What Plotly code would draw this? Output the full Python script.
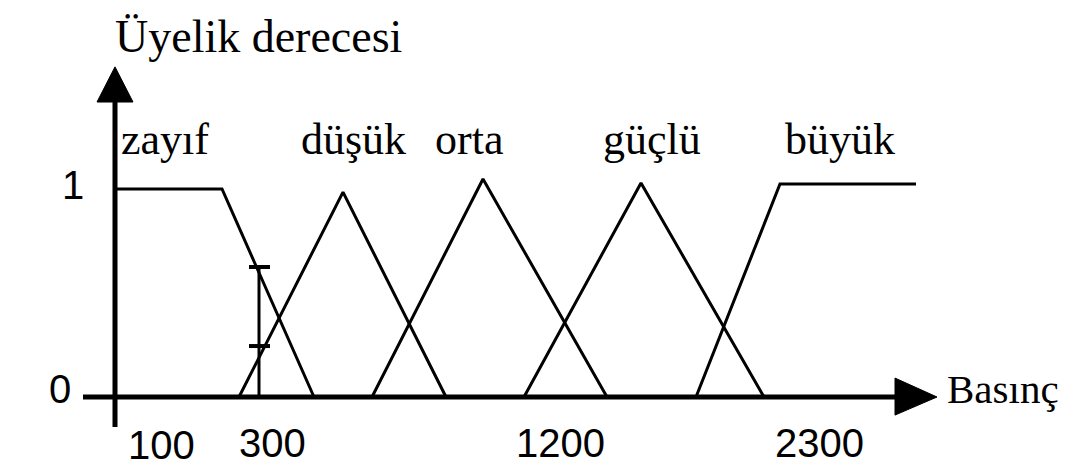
import plotly.graph_objects as go

# membership functions (x in drawing units, origin = y axis)
set_names = ["zayıf", "düşük", "orta", "güçlü", "büyük"]
set_x = [
    [0.0, 1.07, 1.99],
    [1.24, 2.28, 3.31],
    [2.57, 3.68, 4.92],
    [4.09, 5.26, 6.49],
    [5.81, 6.65, 8.01],
]
set_y = [
    [1.0, 1.0, 0.0],
    [0.0, 0.985, 0.0],
    [0.0, 1.048, 0.0],
    [0.0, 1.029, 0.0],
    [0.0, 1.024, 1.024],
]
name_x = [0.50, 2.38, 3.54, 5.37, 7.25]

# tick labels under the x axis
tick_labels = ["100", "300", "1200", "2300"]
tick_pos = [0.46, 1.57, 4.45, 7.04]
tick_y = [-0.232, -0.222, -0.222, -0.222]

# measured input (vertical marker) and its two intersections
marker_x = 1.44
marker_levels = [0.625, 0.245]

fig = go.Figure()

# axes
fig.add_trace(go.Scatter(x=[0, 0], y=[-0.144, 1.42], mode="lines",
                         line=dict(color="black", width=5), hoverinfo="skip"))
fig.add_trace(go.Scatter(x=[-0.32, 7.82], y=[0, 0], mode="lines",
                         line=dict(color="black", width=5), hoverinfo="skip"))
# arrow heads
fig.add_trace(go.Scatter(x=[-0.18, 0.18, 0, -0.18], y=[1.418, 1.418, 1.587, 1.418],
                         mode="lines", fill="toself", fillcolor="black",
                         line=dict(color="black", width=1), hoverinfo="skip"))
fig.add_trace(go.Scatter(x=[7.80, 7.80, 8.22, 7.80], y=[0.091, -0.087, 0, 0.091],
                         mode="lines", fill="toself", fillcolor="black",
                         line=dict(color="black", width=1), hoverinfo="skip"))

for xs, ys in zip(set_x, set_y):
    fig.add_trace(go.Scatter(x=xs, y=ys, mode="lines",
                             line=dict(color="black", width=3), hoverinfo="skip"))

# marker line with small ticks
fig.add_trace(go.Scatter(x=[marker_x, marker_x], y=[0, marker_levels[0]], mode="lines",
                         line=dict(color="black", width=3), hoverinfo="skip"))
for lv in marker_levels:
    fig.add_trace(go.Scatter(x=[marker_x - 0.10, marker_x + 0.11], y=[lv, lv], mode="lines",
                             line=dict(color="black", width=4), hoverinfo="skip"))

serif = dict(family="Liberation Serif", size=44, color="black")
sans = dict(family="Liberation Sans", size=40, color="black")

for nm, nx in zip(set_names, name_x):
    fig.add_annotation(x=nx, y=1.24, text=nm, showarrow=False, font=serif,
                       xanchor="center", yanchor="middle")
for lab, px, py in zip(tick_labels, tick_pos, tick_y):
    fig.add_annotation(x=px, y=py, text=lab, showarrow=False, font=sans,
                       xanchor="center", yanchor="middle")

fig.add_annotation(x=-0.42, y=1.02, text="1", showarrow=False, font=sans,
                   xanchor="center", yanchor="middle")
fig.add_annotation(x=-0.55, y=0.04, text="0", showarrow=False, font=sans,
                   xanchor="center", yanchor="middle")
fig.add_annotation(x=1.43, y=1.735, text="Üyelik derecesi", showarrow=False,
                   font=dict(family="Liberation Serif", size=46, color="black"),
                   xanchor="center", yanchor="middle")
fig.add_annotation(x=8.88, y=0.04, text="Basınç", showarrow=False,
                   font=dict(family="Liberation Serif", size=41, color="black"),
                   xanchor="center", yanchor="middle")

# the page has an 8px body margin, so the figure is 8px smaller and the
# ranges start 8px in
fig.update_layout(
    width=1061, height=459,
    margin=dict(l=0, r=0, t=0, b=0),
    paper_bgcolor="white", plot_bgcolor="white",
    showlegend=False,
    xaxis=dict(range=[-1.07, 9.54], visible=False, fixedrange=True),
    yaxis=dict(range=[-0.3365, 1.870], visible=False, fixedrange=True),
)

fig.write_html("out.html")
